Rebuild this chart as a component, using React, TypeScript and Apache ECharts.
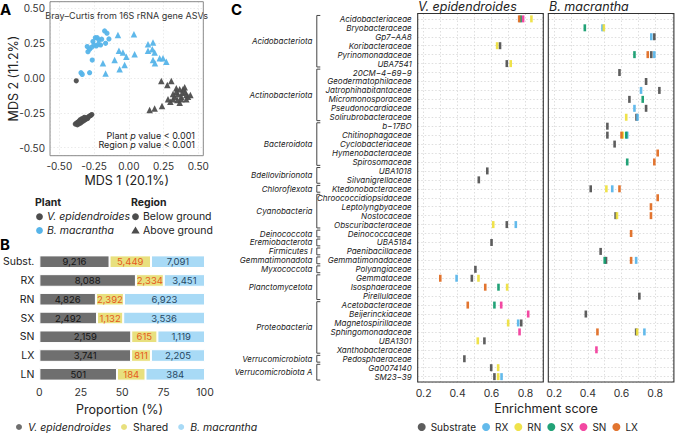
import React, { useEffect, useRef } from "react";
import * as echarts from "echarts";

const FONT = "Inter, 'Noto Sans', 'DejaVu Sans', sans-serif";

// ---------------- Panel A: NMDS scores [MDS1, MDS2] ----------------
const veBelowGround: number[][] = [
  [-0.378, -0.02], [-0.385, -0.33], [-0.376, -0.322], [-0.37, -0.336], [-0.364, -0.316],
  [-0.358, -0.328], [-0.352, -0.31], [-0.347, -0.322], [-0.342, -0.302], [-0.336, -0.314],
  [-0.33, -0.298], [-0.324, -0.306], [-0.318, -0.292], [-0.31, -0.298], [-0.304, -0.285],
  [-0.296, -0.29], [-0.29, -0.278], [-0.282, -0.272], [-0.274, -0.268], [-0.266, -0.262],
  [-0.35, -0.3], [-0.338, -0.292], [-0.32, -0.282], [-0.36, -0.312],
];
const veAboveGround: number[][] = [
  [0.234, -0.022], [0.306, -0.022], [0.277, -0.05], [0.342, -0.074], [0.366, -0.081],
  [0.402, -0.067], [0.385, -0.105], [0.406, -0.098], [0.342, -0.098], [0.318, -0.115],
  [0.354, -0.117], [0.378, -0.134], [0.414, -0.122], [0.426, -0.134], [0.414, -0.153],
  [0.378, -0.153], [0.349, -0.158], [0.318, -0.153], [0.282, -0.153], [0.299, -0.17],
  [0.366, -0.177], [0.239, -0.201], [0.186, -0.218], [0.15, -0.23], [0.39, -0.081],
  [0.443, -0.122], [0.33, -0.134],
];
const bmBelowGround: number[][] = [
  [-0.299, 0.225], [-0.282, 0.206], [-0.267, 0.22], [-0.258, 0.261], [-0.241, 0.289],
  [-0.227, 0.289], [-0.215, 0.273], [-0.195, 0.278], [-0.234, 0.23], [-0.251, 0.237],
  [-0.219, 0.242], [-0.203, 0.237], [-0.174, 0.337], [-0.157, 0.321], [-0.167, 0.249],
  [-0.143, 0.28], [-0.263, 0.129], [-0.294, 0.189], [-0.344, 0.038], [-0.335, 0.026],
  [-0.282, 0.038],
];
const bmAboveGround: number[][] = [
  [-0.078, 0.309], [0.037, 0.313], [-0.186, 0.105], [-0.167, 0.033], [-0.071, 0.196],
  [-0.042, 0.182], [-0.018, 0.153], [0.042, 0.17], [-0.066, 0.062], [-0.03, 0.093],
  [-0.102, 0.129], [0.138, 0.242], [0.174, 0.254], [0.169, 0.206], [0.186, 0.182],
  [0.138, 0.196], [0.174, 0.129], [0.188, 0.105], [0.222, 0.141], [0.246, 0.141],
  [0.27, 0.117],
];

// ---------------- Panel B: ASV counts ----------------
const bCategories = ["Subst.", "RX", "RN", "SX", "SN", "LX", "LN"];
const bVepi = [9216, 8088, 4826, 2492, 2159, 3741, 501];
const bShared = [5449, 2334, 2392, 1132, 615, 811, 184];
const bBmac = [7091, 3451, 6923, 3536, 1119, 2205, 384];

// ---------------- Panel C: enrichment scores ----------------
const families = [
  "Acidobacteriaceae", "Bryobacteraceae", "Gp7−AA8", "Koribacteraceae", "Pyrinomonadaceae", "UBA7541",
  "20CM−4−69−9", "Geodermatophilaceae", "Jatrophihabitantaceae", "Micromonosporaceae", "Pseudonocardiaceae", "Solirubrobacteraceae",
  "b−17BO", "Chitinophagaceae", "Cyclobacteriaceae", "Hymenobacteraceae", "Spirosomaceae",
  "UBA1018", "Silvanigrellaceae",
  "Ktedonobacteraceae",
  "Chroococcidiopsidaceae", "Leptolyngbyaceae", "Nostocaceae", "Obscuribacteraceae",
  "Deinococcaceae", "UBA5184", "Paenibacillaceae", "Gemmatimonadaceae", "Polyangiaceae",
  "Gemmataceae", "Isosphaeraceae", "Pirellulaceae",
  "Acetobacteraceae", "Beijerinckiaceae", "Magnetospirillaceae", "Sphingomonadaceae", "UBA1301", "Xanthobacteraceae",
  "Pedosphaeraceae", "Ga0074140", "SM23−39",
];
const phylumNames = [
  "Acidobacteriota", "Actinobacteriota", "Bacteroidota", "Bdellovibrionota", "Chloroflexota",
  "Cyanobacteria", "Deinococcota", "Eremiobacterota", "Firmicutes I", "Gemmatimonadota",
  "Myxococcota", "Planctomycetota", "Proteobacteria", "Verrucomicrobiota", "Verrucomicrobiota A",
];
const phylumSizes = [6, 6, 5, 2, 1, 4, 1, 1, 1, 1, 1, 3, 6, 1, 2];

const sampleNames = ["Substrate", "RX", "RN", "SX", "SN", "LX"];
const sampleColors = ["#4f4f4f", "#56B4E9", "#EEDF3C", "#0F9A6B", "#F2389A", "#E0691E"];

// V. epidendroides
const veSubstrate: [string, number][] = [
  ["Koribacteraceae", 0.65], ["UBA7541", 0.69], ["UBA1018", 0.575], ["Silvanigrellaceae", 0.525],
  ["Obscuribacteraceae", 0.69], ["UBA5184", 0.6], ["Polyangiaceae", 0.505], ["Gemmataceae", 0.484],
  ["Magnetospirillaceae", 0.775], ["UBA1301", 0.558], ["Pedosphaeraceae", 0.44], ["Ga0074140", 0.598],
  ["SM23−39", 0.617],
];
const veRX: [string, number][] = [
  ["Obscuribacteraceae", 0.743], ["Gemmataceae", 0.394], ["Magnetospirillaceae", 0.757], ["SM23−39", 0.659],
];
const veRN: [string, number][] = [
  ["Acidobacteriaceae", 0.835], ["Koribacteraceae", 0.633], ["UBA7541", 0.713], ["Obscuribacteraceae", 0.61],
  ["Gemmataceae", 0.523], ["Isosphaeraceae", 0.692], ["Magnetospirillaceae", 0.698], ["UBA1301", 0.519],
  ["Ga0074140", 0.639], ["SM23−39", 0.639],
];
const veSX: [string, number][] = [
  ["Acidobacteriaceae", 0.772], ["Isosphaeraceae", 0.641], ["Acetobacteraceae", 0.617],
];
const veSN: [string, number][] = [
  ["Acidobacteriaceae", 0.786], ["Acetobacteraceae", 0.657], ["Beijerinckiaceae", 0.816], ["Sphingomonadaceae", 0.765],
];
const veLX: [string, number][] = [
  ["Acidobacteriaceae", 0.763], ["Gemmataceae", 0.298], ["Isosphaeraceae", 0.563], ["Acetobacteraceae", 0.46],
];

// B. macrantha
const bmSubstrate: [string, number][] = [
  ["Gp7−AA8", 0.795], ["Pyrinomonadaceae", 0.777], ["20CM−4−69−9", 0.588], ["Geodermatophilaceae", 0.746],
  ["Jatrophihabitantaceae", 0.825], ["Micromonosporaceae", 0.647], ["Pseudonocardiaceae", 0.746],
  ["Solirubrobacteraceae", 0.689], ["b−17BO", 0.516], ["Chitinophagaceae", 0.516], ["Cyclobacteriaceae", 0.559],
  ["Ktedonobacteraceae", 0.417], ["Nostocaceae", 0.565], ["Paenibacillaceae", 0.476], ["Gemmatimonadaceae", 0.508],
  ["Pirellulaceae", 0.706], ["Beijerinckiaceae", 0.388], ["Sphingomonadaceae", 0.687],
];
const bmRX: [string, number][] = [
  ["Bryobacteraceae", 0.487], ["Gp7−AA8", 0.777], ["Pyrinomonadaceae", 0.795], ["Jatrophihabitantaceae", 0.716],
  ["Pseudonocardiaceae", 0.677], ["Solirubrobacteraceae", 0.695], ["Chitinophagaceae", 0.634],
  ["Ktedonobacteraceae", 0.545], ["Gemmatimonadaceae", 0.687], ["Sphingomonadaceae", 0.736],
];
const bmRN: [string, number][] = [
  ["Bryobacteraceae", 0.495], ["Solirubrobacteraceae", 0.628], ["Chitinophagaceae", 0.607],
  ["Ktedonobacteraceae", 0.51], ["Nostocaceae", 0.573], ["Sphingomonadaceae", 0.693],
];
const bmSX: [string, number][] = [
  ["Bryobacteraceae", 0.382], ["Pyrinomonadaceae", 0.677], ["Micromonosporaceae", 0.726],
  ["Chitinophagaceae", 0.628], ["Spirosomaceae", 0.634], ["Gemmatimonadaceae", 0.5],
];
const bmSN: [string, number][] = [["Xanthobacteraceae", 0.451]];
const bmLX: [string, number][] = [
  ["Pyrinomonadaceae", 0.756], ["Chitinophagaceae", 0.6], ["Hymenobacteraceae", 0.815], ["Spirosomaceae", 0.795],
  ["Ktedonobacteraceae", 0.588], ["Chroococcidiopsidaceae", 0.815], ["Leptolyngbyaceae", 0.775],
  ["Nostocaceae", 0.775], ["Deinococcaceae", 0.657], ["Gemmatimonadaceae", 0.657], ["Sphingomonadaceae", 0.457],
];

const veSets = [veSubstrate, veRX, veRN, veSX, veSN, veLX];
const bmSets = [bmSubstrate, bmRX, bmRN, bmSX, bmSN, bmLX];

const GREY_A = "#4d4d4d";
const BLUE_A = "#56B4E9";
const BAR_COLORS = ["#6f6f6f", "#E8E07E", "#A8DAF6"];
const BAR_LABEL_COLORS = ["#151515", "#E55A1C", "#274863"];

const A_GRID = { left: 50, top: 1.7, width: 153.3, height: 154 };
const C_LEFT = { left: 417.7, top: 13.5, width: 125.6, height: 368.5 };
const C_RIGHT = { left: 548.3, top: 13.5, width: 125.6, height: 368.5 };

function App() {
  const ref = useRef<HTMLDivElement>(null);
  useEffect(() => {
    if (!ref.current) return;
    const chart = echarts.init(ref.current, null, { renderer: "svg" });

    const totals = bCategories.map((_, i) => bVepi[i] + bShared[i] + bBmac[i]);
    const barSets = [bVepi, bShared, bBmac];
    const barNames = ["V. epidendroides", "Shared", "B. macrantha"];

    const dottedGrid = { show: true, lineStyle: { color: "#d6d6d6", type: [1.5, 2], width: 0.8 } };

    const cX = (idx: number) => ({
      type: "value", gridIndex: idx, min: 0.165, max: 0.905, minInterval: 0.1, maxInterval: 0.1,
      axisLine: { show: false }, axisTick: { show: false },
      splitLine: dottedGrid,
      axisLabel: {
        showMinLabel: false, showMaxLabel: false, fontSize: 10.5, color: "#333", margin: 6, fontFamily: FONT,
        formatter: (v: number) => {
          const t = Math.round(v * 10);
          return Math.abs(v * 10 - t) < 1e-6 && t % 2 === 0 && t >= 2 && t <= 8 ? (t / 10).toFixed(1) : "";
        },
      },
    });
    const cY = (idx: number, showLabels: boolean) => ({
      type: "value", gridIndex: idx, min: -0.6, max: 40.6, inverse: true, minInterval: 1, maxInterval: 1,
      axisLine: { show: false }, axisTick: { show: false },
      splitLine: dottedGrid,
      axisLabel: {
        show: showLabels, showMinLabel: false, showMaxLabel: false, fontSize: 8, fontStyle: "italic",
        color: "#222", margin: 6, fontFamily: FONT,
        formatter: (v: number) => (Number.isInteger(v) && v >= 0 && v < families.length ? families[v] : ""),
      },
    });

    const series: any[] = [];
    // Panel A
    const aSets = [
      { data: veBelowGround, color: GREY_A, symbol: "circle", size: 5.2, name: "Ve below" },
      { data: veAboveGround, color: GREY_A, symbol: "triangle", size: 6.5, name: "Ve above" },
      { data: bmBelowGround, color: BLUE_A, symbol: "circle", size: 5.2, name: "Bm below" },
      { data: bmAboveGround, color: BLUE_A, symbol: "triangle", size: 6.5, name: "Bm above" },
    ];
    aSets.forEach((s) =>
      series.push({
        type: "scatter", name: s.name, xAxisIndex: 0, yAxisIndex: 0, data: s.data,
        symbol: s.symbol, symbolSize: s.size, itemStyle: { color: s.color, opacity: 0.95 }, silent: true,
      })
    );
    // Panel B
    barSets.forEach((arr, k) =>
      series.push({
        type: "bar", name: barNames[k], stack: "asv", xAxisIndex: 1, yAxisIndex: 1, barWidth: 12.6,
        data: arr.map((v, i) => (v / totals[i]) * 100),
        itemStyle: { color: BAR_COLORS[k], borderColor: "#ffffff", borderWidth: 1 },
        label: {
          show: true, position: "inside", fontSize: 9.5, fontFamily: FONT, color: BAR_LABEL_COLORS[k],
          formatter: (p: any) => arr[p.dataIndex].toLocaleString("en-US"),
        },
        silent: true,
      })
    );
    // Panel C
    [veSets, bmSets].forEach((sets, pi) => {
      sets.forEach((set, si) =>
        series.push({
          type: "scatter", name: sampleNames[si], xAxisIndex: 2 + pi, yAxisIndex: 2 + pi,
          data: set.map((d) => [d[1], families.indexOf(d[0])]),
          symbol: "rect", symbolSize: [2.6, 7], itemStyle: { color: sampleColors[si], opacity: 0.92 },
          silent: true,
        })
      );
    });

    const option: any = {
      animation: false,
      textStyle: { fontFamily: FONT },
      grid: [
        { ...A_GRID },
        { left: 34, top: 252.3, width: 171, height: 131.4 },
        { ...C_LEFT },
        { ...C_RIGHT },
      ],
      xAxis: [
        {
          type: "value", gridIndex: 0, min: -0.567, max: 0.536, minInterval: 0.25, maxInterval: 0.25,
          axisLine: { show: false }, axisTick: { show: false },
          splitLine: { show: true, lineStyle: { color: "#e6e6e6", type: [1.5, 2], width: 0.8 } },
          axisLabel: { showMinLabel: false, showMaxLabel: false, fontSize: 10, color: "#333", margin: 5, formatter: (v: number) => v.toFixed(2) },
        },
        {
          type: "value", gridIndex: 1, min: 0, max: 100, interval: 25,
          axisLine: { show: false }, axisTick: { show: false }, splitLine: { show: false },
          axisLabel: { fontSize: 10.5, color: "#333", margin: 3 },
        },
        cX(2),
        cX(3),
      ],
      yAxis: [
        {
          type: "value", gridIndex: 0, min: -0.557, max: 0.547, minInterval: 0.25, maxInterval: 0.25,
          axisLine: { show: false }, axisTick: { show: false },
          splitLine: { show: true, lineStyle: { color: "#e6e6e6", type: [1.5, 2], width: 0.8 } },
          axisLabel: { showMinLabel: false, showMaxLabel: false, fontSize: 10, color: "#333", margin: 5, formatter: (v: number) => v.toFixed(2) },
        },
        {
          type: "category", gridIndex: 1, data: bCategories, inverse: true,
          axisLine: { show: false }, axisTick: { show: false },
          axisLabel: { fontSize: 10.5, color: "#222", margin: 5 },
        },
        cY(2, true),
        cY(3, false),
      ],
      legend: [
        {
          data: barNames, left: 14, top: 421.5, padding: 0, itemWidth: 8, itemHeight: 8, itemGap: 8,
          icon: "circle", textStyle: {
            fontSize: 10.5, color: "#222", fontFamily: FONT,
            rich: { i: { fontStyle: "italic", fontSize: 10.5, fontFamily: FONT }, n: { fontSize: 10.5, fontFamily: FONT } },
          },
          formatter: (n: string) => (n === "Shared" ? `{n|${n}}` : `{i|${n}}`),
          selectedMode: false,
        },
        {
          data: sampleNames, left: 417.7, top: 422, padding: 0, itemWidth: 8, itemHeight: 8, itemGap: 6,
          icon: "circle", textStyle: { fontSize: 10, color: "#222", fontFamily: FONT }, selectedMode: false,
        },
      ],
      series,
    };
    chart.setOption(option);

    // ----- annotations -----
    const g: any[] = [];
    const txt = (text: string, x: number, y: number, o: any = {}) => ({
      type: "text", x, y, silent: true,
      style: {
        text, fill: o.fill || "#222", fontSize: o.size || 10, fontFamily: FONT,
        fontWeight: o.weight || "normal", fontStyle: o.style || "normal",
        align: o.align || "left", verticalAlign: o.valign || "middle", rich: o.rich,
      },
      rotation: o.rotation || 0,
    });
    // Panel borders
    g.push({
      type: "rect", silent: true, z: 100,
      shape: { x: A_GRID.left, y: A_GRID.top, width: A_GRID.width, height: A_GRID.height },
      style: { fill: null, stroke: "#8a8a8a", lineWidth: 1 },
    });
    [C_LEFT, C_RIGHT].forEach((r) =>
      g.push({
        type: "rect", silent: true, z: 100,
        shape: { x: r.left, y: r.top, width: r.width, height: r.height },
        style: { fill: null, stroke: "#333", lineWidth: 1.1 },
      })
    );
    // Panel letters
    g.push(txt("A", 0, 9, { size: 15, weight: "bold", fill: "#000" }));
    g.push(txt("B", 0, 244, { size: 15, weight: "bold", fill: "#000" }));
    g.push(txt("C", 231, 9, { size: 15, weight: "bold", fill: "#000" }));
    // Panel A texts
    g.push(txt("Bray–Curtis from 16S rRNA gene ASVs", 126.7, 15, { size: 9, align: "center", fill: "#333" }));
    const richP = { n: { fontSize: 9, fontFamily: FONT, fill: "#222" }, i: { fontSize: 9, fontFamily: FONT, fontStyle: "italic", fill: "#222" } };
    g.push(txt("{n|Plant }{i|p}{n| value < 0.001}", 195, 135, { align: "right", rich: richP }));
    g.push(txt("{n|Region }{i|p}{n| value < 0.001}", 195, 144.5, { align: "right", rich: richP }));
    g.push(txt("MDS 1 (20.1%)", 126.7, 180, { size: 12.5, align: "center" }));
    g.push(txt("MDS 2 (11.2%)", 13.5, 78.5, { size: 12.5, align: "center", rotation: Math.PI / 2 }));
    // Panel A legend
    g.push(txt("Plant", 35, 202.7, { size: 10.5, weight: "bold" }));
    g.push(txt("Region", 131, 202.7, { size: 10.5, weight: "bold" }));
    g.push({ type: "circle", shape: { cx: 39.5, cy: 216.7, r: 3.4 }, style: { fill: GREY_A }, silent: true });
    g.push({ type: "circle", shape: { cx: 39.5, cy: 230.5, r: 3.4 }, style: { fill: BLUE_A }, silent: true });
    g.push(txt("V. epidendroides", 47, 216.7, { size: 10.5, style: "italic" }));
    g.push(txt("B. macrantha", 47, 230.5, { size: 10.5, style: "italic" }));
    g.push({ type: "circle", shape: { cx: 135.5, cy: 216.7, r: 3.4 }, style: { fill: GREY_A }, silent: true });
    g.push({ type: "polygon", shape: { points: [[135.5, 226.6], [139.7, 233.6], [131.3, 233.6]] }, style: { fill: GREY_A }, silent: true });
    g.push(txt("Below ground", 143, 216.7, { size: 10.5 }));
    g.push(txt("Above ground", 143, 230.5, { size: 10.5 }));
    // Panel B axis title
    g.push(txt("Proportion (%)", 119.5, 409, { size: 12.5, align: "center" }));
    // Panel C titles
    g.push(txt("V. epidendroides", 418, 6.5, { size: 12.5, style: "italic" }));
    g.push(txt("B. macrantha", 549, 6.5, { size: 12.5, style: "italic" }));
    g.push(txt("Enrichment score", 546, 408, { size: 12.5, align: "center" }));
    // phylum brackets
    let start = 0;
    phylumNames.forEach((name, k) => {
      const end = start + phylumSizes[k] - 1;
      const yTop = (chart.convertToPixel({ yAxisIndex: 2 } as any, start) as any) - 3.4;
      const yBot = (chart.convertToPixel({ yAxisIndex: 2 } as any, end) as any) + 3.4;
      g.push({
        type: "polyline", silent: true,
        shape: { points: [[320.3, yTop], [316.8, yTop], [316.8, yBot], [320.3, yBot]] },
        style: { stroke: "#444", lineWidth: 1, fill: null },
      });
      g.push(txt(name, 312.5, (yTop + yBot) / 2, { size: 8, style: "italic", align: "right" }));
      start = end + 1;
    });
    chart.setOption({ graphic: g });

    return () => chart.dispose();
  }, []);
  return <div ref={ref} style={{ position: "absolute", left: 0, top: 0, width: 675, height: 435 }} />;
}

export default App;
